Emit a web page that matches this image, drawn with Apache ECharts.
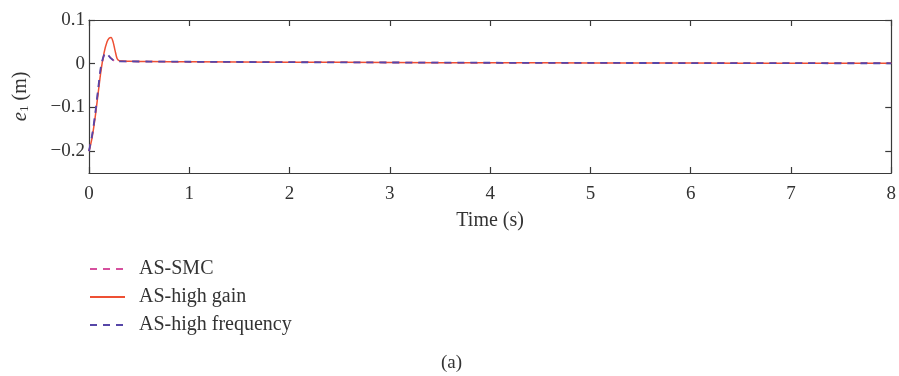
<!DOCTYPE html>
<html>
<head>
<meta charset="utf-8">
<script src="https://cdn.jsdelivr.net/npm/echarts@6/dist/echarts.min.js"></script>
<style>
  html, body { margin: 0; padding: 0; background: #fff; }
  #chart { width: 899px; height: 376px; }
</style>
</head>
<body>
<div id="chart"></div>
<script>
// legend names
let seriesNames = ["AS-SMC", "AS-high gain", "AS-high frequency"];

// axis ticks
let xTicks = [0, 1, 2, 3, 4, 5, 6, 7, 8];
let yTicks = [-0.2, -0.1, 0, 0.1];

// AS-SMC (dashed pink, mostly hidden under the others)
let smcTime = [0, 0.03, 0.06, 0.09, 0.12, 0.15, 0.17, 0.19, 0.22, 0.25, 0.3, 0.4, 0.6, 1, 2, 3, 4, 5, 6, 7, 8];
let smcErr = [-0.2, -0.166, -0.12, -0.062, -0.007, 0.019, 0.024, 0.02, 0.012, 0.007, 0.0055, 0.0052, 0.005, 0.0045, 0.0035, 0.0028, 0.0022, 0.0018, 0.0015, 0.0012, 0.001];

// AS-high gain (solid red)
let gainTime = [0, 0.03, 0.06, 0.09, 0.12, 0.15, 0.18, 0.2, 0.22, 0.24, 0.26, 0.28, 0.3, 0.33, 0.4, 0.6, 1, 2, 3, 4, 5, 6, 7, 8];
let gainErr = [-0.2, -0.17, -0.125, -0.07, -0.015, 0.025, 0.05, 0.058, 0.06, 0.05, 0.03, 0.012, 0.007, 0.006, 0.0055, 0.005, 0.0045, 0.0035, 0.0028, 0.0022, 0.0018, 0.0015, 0.0012, 0.001];

// AS-high frequency (dashed purple)
let freqTime = [0, 0.03, 0.06, 0.09, 0.12, 0.15, 0.17, 0.19, 0.22, 0.25, 0.3, 0.4, 0.6, 1, 2, 3, 4, 5, 6, 7, 8];
let freqErr = [-0.2, -0.165, -0.118, -0.06, -0.005, 0.02, 0.025, 0.02, 0.012, 0.007, 0.0055, 0.0052, 0.005, 0.0045, 0.0035, 0.0028, 0.0022, 0.0018, 0.0015, 0.0012, 0.001];

function pairs(xs, ys) {
    return xs.map((x, i) => [x, ys[i]]);
}

let fontFamily = '"Liberation Serif", "DejaVu Serif", serif';
let axisColor = '#3a3a3a';

let chart = echarts.init(document.getElementById('chart'), null, { renderer: 'canvas' });

// box frame: every axis sits on the grid edge, ticks pointing inward
let frameAxis = {
    axisLine: { show: true, onZero: false, lineStyle: { color: axisColor, width: 1.2 } },
    axisTick: { show: true, inside: true, length: 6, lineStyle: { color: axisColor, width: 1.2 } },
    splitLine: { show: false }
};

let option = {
    animation: false,
    backgroundColor: '#fff',
    title: {
        text: '(a)',
        left: 436,
        top: 349,
        textStyle: { fontFamily: fontFamily, fontSize: 19, fontWeight: 'normal', color: '#333' }
    },
    legend: {
        data: seriesNames,
        orient: 'vertical',
        left: 84,
        top: 254,
        itemWidth: 35,
        itemHeight: 14,
        itemGap: 8,
        itemStyle: { opacity: 0 },
        textStyle: { fontFamily: fontFamily, fontSize: 20, color: '#333', padding: [0, 0, 0, 9] }
    },
    grid: { left: 89, right: 4, top: 20, bottom: 203 },
    xAxis: [
        Object.assign({}, frameAxis, {
            type: 'value',
            min: 0,
            max: 8,
            interval: 1,
            name: 'Time (s)',
            nameLocation: 'middle',
            nameGap: 38,
            nameTextStyle: { fontFamily: fontFamily, fontSize: 20, color: '#333' },
            axisLabel: {
                customValues: xTicks,
                fontFamily: fontFamily, fontSize: 19, color: '#333', margin: 12
            },
            axisTick: Object.assign({}, frameAxis.axisTick, { customValues: xTicks })
        }),
        Object.assign({}, frameAxis, {
            type: 'value',
            position: 'top',
            min: 0,
            max: 8,
            interval: 1,
            axisLabel: { show: false },
            axisTick: Object.assign({}, frameAxis.axisTick, { customValues: xTicks })
        })
    ],
    yAxis: [
        Object.assign({}, frameAxis, {
            type: 'value',
            min: -0.25,
            max: 0.1,
            interval: 0.05,
            name: '{i|e}{s|1}{n| (m)}',
            nameLocation: 'middle',
            nameRotate: 90,
            nameGap: 58,
            nameTextStyle: {
                rich: {
                    i: { fontFamily: fontFamily, fontSize: 21, fontStyle: 'italic', color: '#333' },
                    s: { fontFamily: fontFamily, fontSize: 13, color: '#333', verticalAlign: 'bottom', padding: [8, 0, 0, 0] },
                    n: { fontFamily: fontFamily, fontSize: 20, color: '#333' }
                }
            },
            axisLabel: {
                customValues: yTicks,
                fontFamily: fontFamily, fontSize: 19, color: '#333', margin: 4,
                formatter: v => v === 0 ? '0' : (v < 0 ? '\u2212' + Math.abs(v).toFixed(1) : v.toFixed(1))
            },
            axisTick: Object.assign({}, frameAxis.axisTick, { customValues: yTicks })
        }),
        Object.assign({}, frameAxis, {
            type: 'value',
            position: 'right',
            min: -0.25,
            max: 0.1,
            interval: 0.05,
            axisLabel: { show: false },
            axisTick: Object.assign({}, frameAxis.axisTick, { customValues: yTicks })
        })
    ],
    series: [
        {
            name: seriesNames[0],
            type: 'line',
            data: pairs(smcTime, smcErr),
            showSymbol: false,
            symbol: 'none',
            color: '#d6509e',
            lineStyle: { width: 1.5, type: [7, 6], color: '#d6509e' },
            z: 2
        },
        {
            name: seriesNames[1],
            type: 'line',
            data: pairs(gainTime, gainErr),
            showSymbol: false,
            symbol: 'none',
            smooth: 0.3,
            color: '#ee5034',
            lineStyle: { width: 1.5, color: '#ee5034' },
            z: 3
        },
        {
            name: seriesNames[2],
            type: 'line',
            data: pairs(freqTime, freqErr),
            showSymbol: false,
            symbol: 'none',
            smooth: 0.3,
            color: '#5646a8',
            lineStyle: { width: 1.8, type: [7, 6], color: '#5646a8' },
            z: 4
        }
    ]
};

chart.setOption(option);
</script>
</body>
</html>
